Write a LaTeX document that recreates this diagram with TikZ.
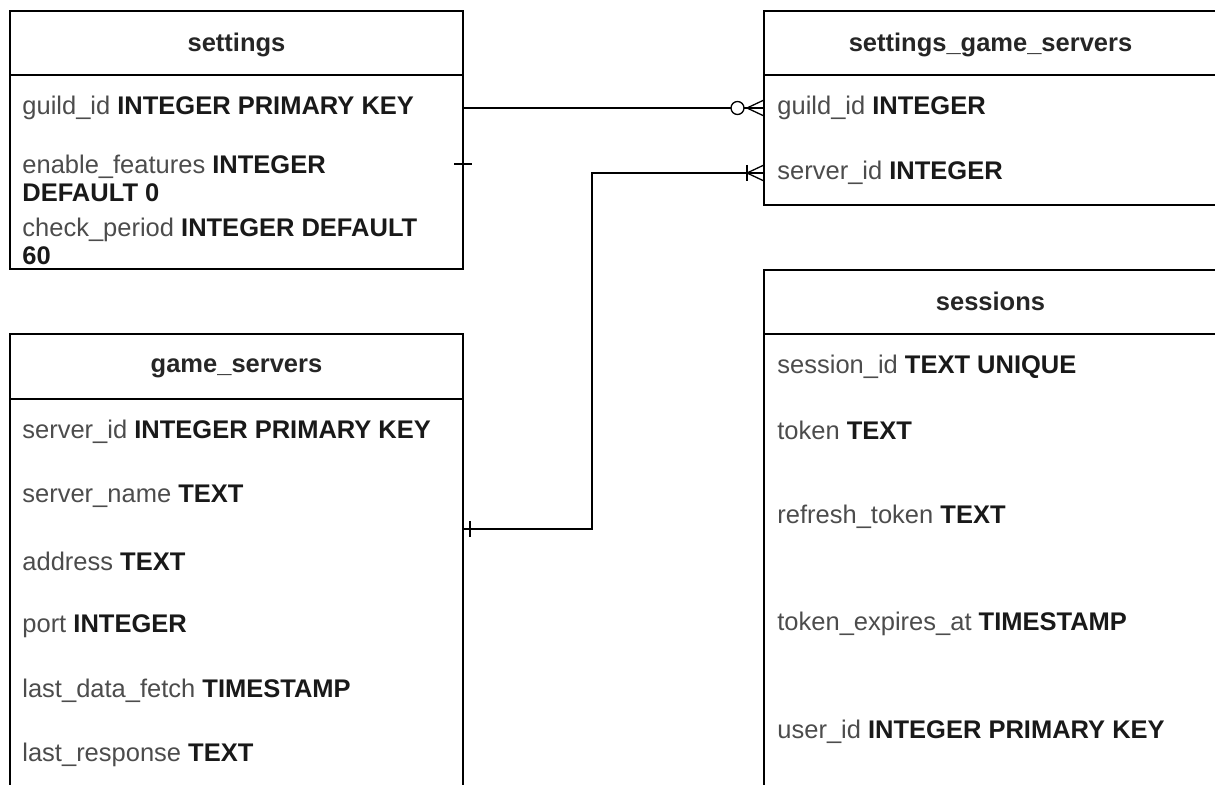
\documentclass[tikz,border=0pt]{standalone}
\usepackage{fontspec}
\setmainfont{Liberation Sans}
\usetikzlibrary{positioning}

\newcommand{\fld}[2]{{\color{black!70}#1} \textbf{#2}}

\tikzset{
  every node/.style={font=\fontsize{12.75}{14}\selectfont},
  head/.style={draw, line width=.75pt, anchor=north west, outer sep=0pt, inner sep=0pt,
    minimum width=226.5pt, minimum height=32pt, text depth=1pt,
    font=\fontsize{12.75}{14}\selectfont\bfseries, text=black!85},
  body/.style={draw, line width=.75pt, outer sep=0pt, inner sep=0pt, minimum width=226.5pt},
  row/.style={anchor=west, inner sep=0pt, align=left, text=black!90},
  conn/.style={line width=.65pt}
}

\begin{document}
\begin{tikzpicture}[x=.5pt, y=-.5pt]
\useasboundingbox (0,0) rectangle (1215,785);
\clip (0,0) rectangle (1215,785);

% settings
\node[head] (settings-h) at (10,11) {settings};
\node[body, minimum height=97pt, below=0pt of settings-h] (settings-b) {};
\node[row] (settings-1) at (22,108) {\fld{guild\_id}{INTEGER PRIMARY KEY}};
\node[row] (settings-2) at (22,178) {\fld{enable\_features}{INTEGER}\\\textbf{DEFAULT 0}};
\node[row] (settings-3) at (22,241) {\fld{check\_period}{INTEGER DEFAULT}\\\textbf{60}};

% settings_game_servers
\node[head] (sgs-h) at (764,11) {settings\_game\_servers};
\node[body, minimum height=65pt, below=0pt of sgs-h] (sgs-b) {};
\node[row] (sgs-1) at (777,108) {\fld{guild\_id}{INTEGER}};
\node[row] (sgs-2) at (777,173) {\fld{server\_id}{INTEGER}};

% game_servers
\node[head, minimum height=32.5pt] (gs-h) at (10,334) {game\_servers};
\node[body, minimum height=205pt, below=0pt of gs-h] (gs-b) {};
\foreach \n/\t [count=\i] in {server\_id/INTEGER PRIMARY KEY, server\_name/TEXT, address/TEXT,
    port/INTEGER, last\_data\_fetch/TIMESTAMP, last\_response/TEXT}
  \node[row] (gs-\i) at (22,{432+64.6*(\i-1)}) {\fld{\n}{\t}};

% sessions
\node[head] (ses-h) at (764,270) {sessions};
\node[body, minimum height=240pt, below=0pt of ses-h] (ses-b) {};
\foreach \y/\n/\t [count=\i] in {367/session\_id/TEXT UNIQUE, 430/token/TEXT, 517/refresh\_token/TEXT,
    624/token\_expires\_at/TIMESTAMP, 732/user\_id/INTEGER PRIMARY KEY}
  \node[row] (ses-\i) at (777,\y) {\fld{\n}{\t}};

% relations
\draw[conn] (settings-b.east |- sgs-1) -- (sgs-b.west |- sgs-1);
\draw[conn] (sgs-b.west |- sgs-1) ++(-17,0) -- ++(17,-8) ++(-17,8) -- ++(17,8);
\draw[conn, fill=white] (sgs-b.west |- sgs-1) ++(-26.5,0) circle (3.25pt);
\draw[conn] (settings-b.east |- 0,164) ++(-9,0) -- ++(18,0);

\coordinate (bend) at (592,529);
\draw[conn] (sgs-b.west |- sgs-2) -| (bend) -- (gs-b.east |- bend);
\draw[conn] (sgs-b.west |- sgs-2) ++(-17,0) -- ++(17,-8) ++(-17,8) -- ++(17,8);
\draw[conn] (sgs-b.west |- sgs-2) ++(-17,-8) -- ++(0,16);
\draw[conn] (gs-b.east |- bend) ++(7,-8) -- ++(0,16);

\end{tikzpicture}
\end{document}
